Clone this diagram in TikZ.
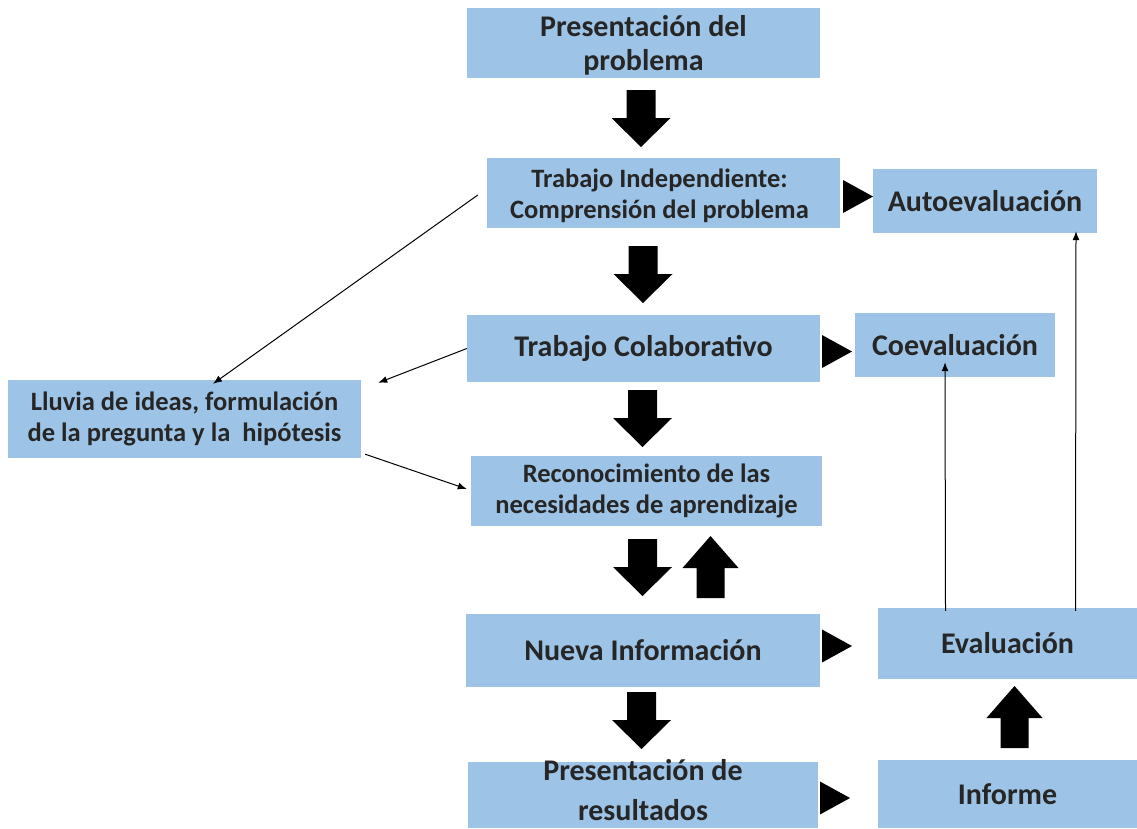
\documentclass[tikz,border=0pt]{standalone}
\usepackage{fontspec}
\setmainfont{Carlito}
\usetikzlibrary{arrows.meta,calc}
\definecolor{boxblue}{HTML}{9DC3E6}
\definecolor{ink}{HTML}{262626}
\tikzset{
  box/.style={fill=boxblue, draw=none, inner sep=0pt, align=center,
    text=ink, font=\bfseries\fontsize{30}{34}\selectfont},
  smallbox/.style={box, font=\bfseries\fontsize{26.5}{30.5}\selectfont},
  boxtext/.style={inner sep=0pt, align=center, text=ink, anchor=base},
  link/.style={draw=black, line width=1pt, -{Latex[length=9pt,width=7pt]}},
  blockdown/.pic={\fill[black] (-14.5,0) -- (14.5,0) -- (14.5,28) -- (29.5,28)
     -- (0,57) -- (-29.5,28) -- (-14.5,28) -- cycle;},
  blockup/.pic={\fill[black] (-14,0) -- (14,0) -- (14,-30) -- (28,-30)
     -- (0,-62) -- (-28,-30) -- (-14,-30) -- cycle;},
  tri/.pic={\fill[black] (0,-16.5) -- (30,0) -- (0,16.5) -- cycle;}
}
\begin{document}
\begin{tikzpicture}[x=1pt,y=-1pt]
\useasboundingbox (0,0) rectangle (1137,828);

% main column
\node[box, minimum width=353pt, minimum height=70pt] (pres) at (643.5,43) {};
\node[boxtext, font=\bfseries\fontsize{30}{34}\selectfont] (prestxt)
  at ([yshift=-27pt]pres.center) {Presentación del\\problema};
\node[box, minimum width=353pt, minimum height=70pt] (indep) at (663.5,193) {};
\node[boxtext, font=\bfseries\fontsize{26.5}{30.5}\selectfont] (indeptxt)
  at ([xshift=-4pt,yshift=-25pt]indep.center)
  {Trabajo Independiente:\\Comprensión del problema};
\node[box, minimum width=353pt, minimum height=67pt] (colab) at (643.5,348.5)
  {Trabajo Colaborativo};
\node[smallbox, minimum width=351pt, minimum height=70pt] (recon) at (646.5,491)
  {Reconocimiento de las\\necesidades de aprendizaje};
\node[box, minimum width=354pt, minimum height=73pt] (nueva) at (643,650.5)
  {Nueva Información};
\node[box, minimum width=350pt, minimum height=66pt] (resul) at (643,795) {};
\node[boxtext, font=\bfseries\fontsize{30}{40}\selectfont] (resultxt)
  at ([yshift=-25pt]resul.center) {Presentación de\\resultados};

% side boxes
\node[box, minimum width=224pt, minimum height=64pt] (auto) at (985,201)
  {Autoevaluación};
\node[box, minimum width=200pt, minimum height=64pt] (coev) at (955,345)
  {Coevaluación};
\node[box, minimum width=259pt, minimum height=71pt] (eval) at (1007.5,643.5)
  {Evaluación};
\node[box, minimum width=259pt, minimum height=68pt] (inform) at (1007.5,794)
  {Informe};
\node[smallbox, minimum width=353pt, minimum height=78pt] (lluvia) at (184.5,419)
  {Lluvia de ideas, formulación\\de la pregunta y la~ hipótesis};

% block arrows between the boxes
\pic (d1) at (641,90) {blockdown};
\pic (d2) at (643,246) {blockdown};
\pic (d3) at (642.5,390) {blockdown};
\pic (d4) at (642.5,539) {blockdown};
\pic (u1) at (710.5,598) {blockup};
\pic (d5) at (641.5,692) {blockdown};
\pic (u2) at (1014.5,748) {blockup};

% triangles pointing to the evaluation boxes
\pic (t1) at (843,196.5) {tri};
\pic (t2) at (822,351.5) {tri};
\pic (t3) at (822,646) {tri};
\pic (t4) at (820,798) {tri};

% thin connectors
\draw[link] ([xshift=-9pt,yshift=-2pt]indep.west) -- ([xshift=28.5pt,yshift=-4pt]lluvia.north);
\draw[link] (colab.west) -- ([xshift=17pt,yshift=-3pt]lluvia.north east);
\draw[link] ([xshift=4pt,yshift=4pt]lluvia.south east) -- ([xshift=-4pt,yshift=2pt]recon.west);
\draw[link] ([xshift=-62pt,yshift=-3pt]eval.north) -- ([xshift=-10pt,yshift=15pt]coev.south);
\draw[link] ([xshift=68pt,yshift=-3pt]eval.north) -- ([xshift=91pt,yshift=2pt]auto.south);
\end{tikzpicture}
\end{document}
